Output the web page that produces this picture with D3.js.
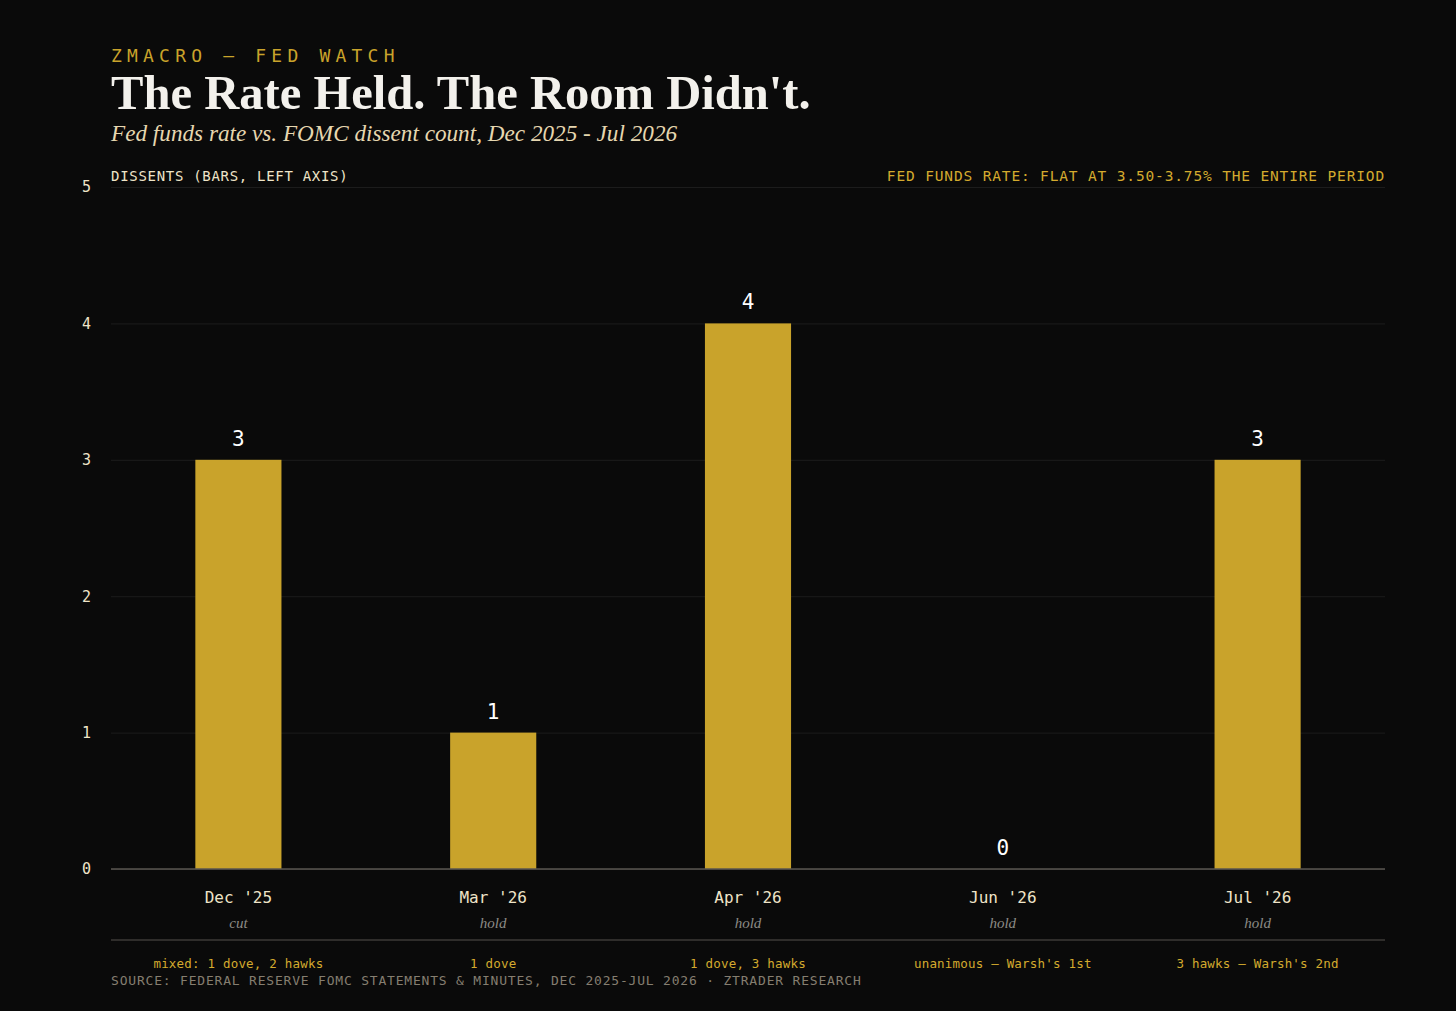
<!DOCTYPE html>
<html lang="en">
<head>
<meta charset="UTF-8" />
<title>The Rate Held. The Room Didn't.</title>
<style>
  html, body { margin: 0; padding: 0; background: #0a0a0a; }
  .chart { width: 1456px; height: 1011px; }
  .mono { font-family: "DejaVu Sans Mono", "Liberation Mono", monospace; }
</style>
</head>
<body>
<div class="chart"></div>
<script src="https://cdn.jsdelivr.net/npm/d3@7/dist/d3.min.js"></script>
<script>
var meetings = ["Dec '25", "Mar '26", "Apr '26", "Jun '26", "Jul '26"];
var dissents = [3, 1, 4, 0, 3];
var decisions = ["cut", "hold", "hold", "hold", "hold"];
var notes = ["mixed: 1 dove, 2 hawks", "1 dove", "1 dove, 3 hawks",
             "unanimous \u2014 Warsh's 1st", "3 hawks \u2014 Warsh's 2nd"];
var yTicks = [0, 1, 2, 3, 4, 5];

var width = 1456, height = 1011;
var margin = { top: 187, bottom: 142, left: 111, right: 71 };

var gold = "#c9a32b";
var cream = "#efe4c8";

var svg = d3.select(".chart").append("svg")
  .attr("width", width)
  .attr("height", height);

svg.append("rect").attr("width", width).attr("height", height).attr("fill", "#0a0a0a");

var x = d3.scaleBand()
  .domain(meetings)
  .range([margin.left, width - margin.right])
  .paddingInner(0.662)
  .paddingOuter(0.331);

var y = d3.scaleLinear()
  .domain([0, 5])
  .range([height - margin.bottom, margin.top]);

// header
svg.append("text")
  .attr("class", "mono")
  .attr("x", margin.left).attr("y", 62)
  .attr("fill", gold)
  .attr("font-size", 18)
  .attr("letter-spacing", 5.2)
  .text("ZMACRO \u2014 FED WATCH");

svg.append("text")
  .attr("x", margin.left).attr("y", 109)
  .attr("fill", "#f3f1ec")
  .attr("font-family", "'Liberation Serif', 'DejaVu Serif', serif")
  .attr("font-weight", "bold")
  .attr("font-size", 48.6)
  .text("The Rate Held. The Room Didn't.");

svg.append("text")
  .attr("x", margin.left).attr("y", 141)
  .attr("fill", "#e6d7b0")
  .attr("font-family", "'Liberation Serif', serif")
  .attr("font-style", "italic")
  .attr("font-size", 23.2)
  .text("Fed funds rate vs. FOMC dissent count, Dec 2025 - Jul 2026");

svg.append("text")
  .attr("class", "mono")
  .attr("x", margin.left).attr("y", 181)
  .attr("fill", cream)
  .attr("font-size", 14)
  .attr("letter-spacing", 0.7)
  .text("DISSENTS (BARS, LEFT AXIS)");

svg.append("text")
  .attr("class", "mono")
  .attr("x", width - margin.right).attr("y", 181)
  .attr("text-anchor", "end")
  .attr("fill", "#d4aa2e")
  .attr("font-size", 14.5)
  .attr("letter-spacing", 0.85)
  .text("FED FUNDS RATE: FLAT AT 3.50-3.75% THE ENTIRE PERIOD");

// grid
var yAxis = d3.axisLeft(y)
  .tickValues(yTicks)
  .tickSize(-(width - margin.left - margin.right))
  .tickPadding(20)
  .tickFormat(d3.format("d"));

var gy = svg.append("g")
  .attr("transform", "translate(" + margin.left + ",0)")
  .call(yAxis);
gy.select(".domain").remove();
gy.selectAll(".tick line").attr("stroke", "#1c1c1c").attr("stroke-width", 1);
gy.selectAll(".tick text")
  .attr("fill", cream)
  .attr("font-family", "'DejaVu Sans Mono', monospace")
  .attr("font-size", 15);

// bars
svg.append("g").selectAll("rect")
  .data(dissents)
  .enter()
  .append("rect")
  .attr("x", function(d, i) { return x(meetings[i]); })
  .attr("y", function(d) { return y(d); })
  .attr("width", x.bandwidth())
  .attr("height", function(d) { return y(0) - y(d); })
  .attr("fill", gold);

svg.append("g").selectAll("text")
  .data(dissents)
  .enter()
  .append("text")
  .attr("class", "mono")
  .attr("x", function(d, i) { return x(meetings[i]) + x.bandwidth() / 2; })
  .attr("y", function(d) { return y(d) - 14; })
  .attr("text-anchor", "middle")
  .attr("fill", "#ffffff")
  .attr("font-size", 21)
  .text(function(d) { return d; });

// baseline
svg.append("line")
  .attr("x1", margin.left).attr("x2", width - margin.right)
  .attr("y1", y(0)).attr("y2", y(0))
  .attr("stroke", "#5a5650").attr("stroke-width", 1.5);

// x labels
var xAxis = d3.axisBottom(x).tickSize(0).tickPadding(20);
var gx = svg.append("g")
  .attr("transform", "translate(0," + y(0) + ")")
  .call(xAxis);
gx.select(".domain").remove();
gx.selectAll(".tick text")
  .attr("fill", cream)
  .attr("font-family", "'DejaVu Sans Mono', monospace")
  .attr("font-size", 16)
  .attr("dy", "0.9em");

svg.append("g").selectAll("text")
  .data(decisions)
  .enter()
  .append("text")
  .attr("x", function(d, i) { return x(meetings[i]) + x.bandwidth() / 2; })
  .attr("y", 928)
  .attr("text-anchor", "middle")
  .attr("fill", "#8c8a86")
  .attr("font-family", "'Liberation Serif', serif")
  .attr("font-style", "italic")
  .attr("font-size", 15)
  .text(function(d) { return d; });

svg.append("line")
  .attr("x1", margin.left).attr("x2", width - margin.right)
  .attr("y1", 940).attr("y2", 940)
  .attr("stroke", "#3c3a37").attr("stroke-width", 1.5);

svg.append("g").selectAll("text")
  .data(notes)
  .enter()
  .append("text")
  .attr("class", "mono")
  .attr("x", function(d, i) { return x(meetings[i]) + x.bandwidth() / 2; })
  .attr("y", 968)
  .attr("text-anchor", "middle")
  .attr("fill", "#d4aa2e")
  .attr("font-size", 12.5)
  .attr("letter-spacing", 0.2)
  .text(function(d) { return d; });

svg.append("text")
  .attr("class", "mono")
  .attr("x", margin.left).attr("y", 985)
  .attr("fill", "#857e70")
  .attr("font-size", 13)
  .attr("letter-spacing", 0.8)
  .text("SOURCE: FEDERAL RESERVE FOMC STATEMENTS & MINUTES, DEC 2025-JUL 2026 \u00b7 ZTRADER RESEARCH");
</script>
</body>
</html>
